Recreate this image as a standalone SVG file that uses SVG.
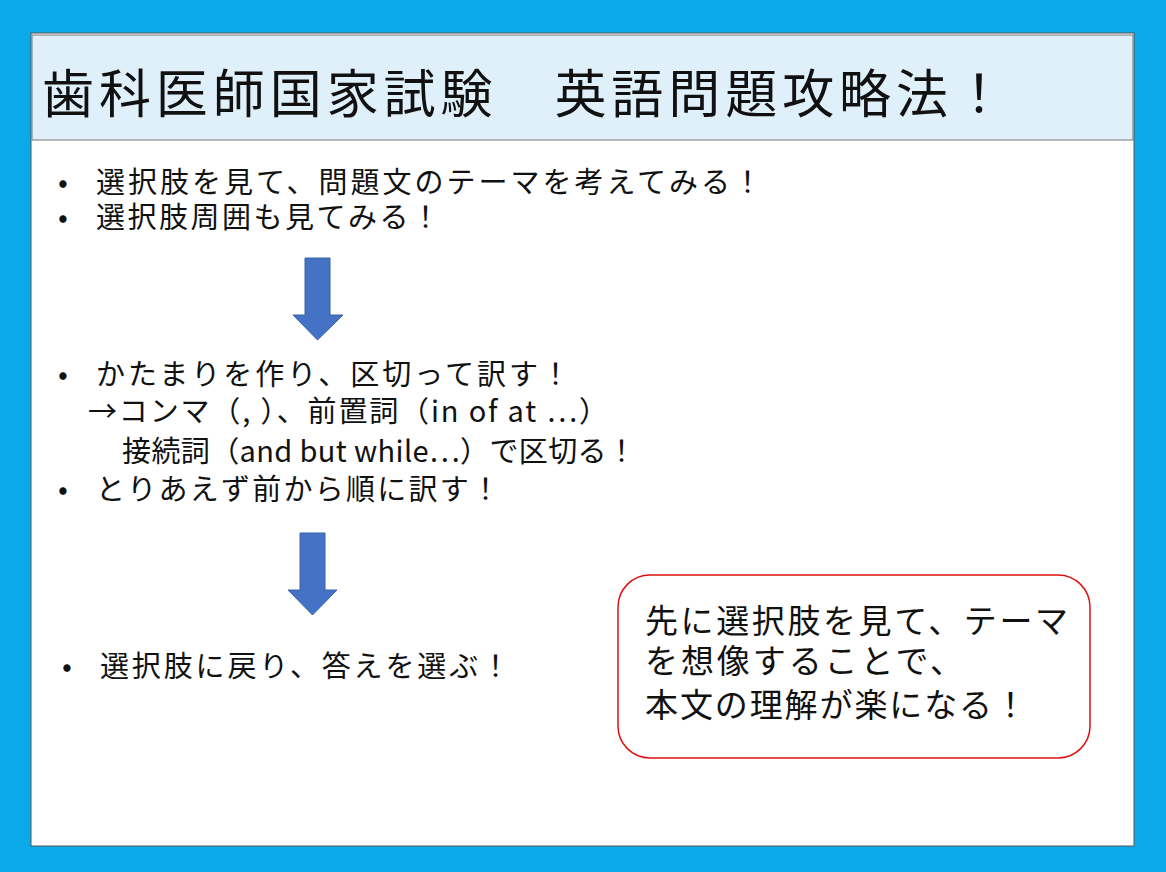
<svg xmlns="http://www.w3.org/2000/svg" width="1166" height="872" viewBox="0 0 1166 872">
<style>
.t{font-family:"Noto Sans CJK JP","Noto Sans",sans-serif;fill:#111}
.b{font-size:29px}
.n{font-size:33px}
.arr{fill:#4472c4;stroke:#3a62a8;stroke-width:1}
</style>
<rect x="0" y="0" width="1166" height="872" fill="#0aaaea"/>
<rect x="31" y="33" width="1103" height="813" fill="#fff" stroke="#555" stroke-width="1"/>
<g id="title">
<rect x="32" y="35" width="1101" height="105" fill="#dff0fb" stroke="#777" stroke-width="1"/>
<text class="t" x="42" y="113" font-size="52" textLength="963" lengthAdjust="spacing">歯科医師国家試験　英語問題攻略法！</text>
</g>
<g id="bullets1">
<text class="t b" x="58" y="193">•</text><text class="t b" x="96" y="193" textLength="666" lengthAdjust="spacing">選択肢を見て、問題文のテーマを考えてみる！</text>
<text class="t b" x="58" y="228">•</text><text class="t b" x="96" y="228" textLength="344" lengthAdjust="spacing">選択肢周囲も見てみる！</text>
</g>
<g id="bullets2">
<text class="t b" x="58" y="385">•</text><text class="t b" x="96" y="385" textLength="474" lengthAdjust="spacing">かたまりを作り、区切って訳す！</text>
<text class="t b" x="88" y="422" textLength="520" lengthAdjust="spacing">→コンマ（,  ）、前置詞（in of at …）</text>
<text class="t b" x="122" y="462" textLength="514" lengthAdjust="spacing">接続詞（and but while…）で区切る！</text>
<text class="t b" x="58" y="500">•</text><text class="t b" x="96" y="500" textLength="404" lengthAdjust="spacing">とりあえず前から順に訳す！</text>
</g>
<g id="bullets3">
<text class="t b" x="62" y="677">•</text><text class="t b" x="100" y="677" textLength="410" lengthAdjust="spacing">選択肢に戻り、答えを選ぶ！</text>
</g>
<g id="connectors">
<polygon class="arr" points="305,258 330,258 330,315 343,315 317.5,340 293,315 305,315"/>
<polygon class="arr" points="300,533 325,533 325,590 337,590 312.5,615 288,590 300,590"/>
</g>
<g id="note">
<rect x="618" y="575" width="472" height="183" rx="32" fill="#fff" stroke="#e01010" stroke-width="1.5"/>
<text class="t n" x="645" y="633" textLength="423" lengthAdjust="spacing">先に選択肢を見て、テーマ</text>
<text class="t n" x="645" y="673" textLength="318" lengthAdjust="spacing">を想像することで、</text>
<text class="t n" x="645" y="717" textLength="382" lengthAdjust="spacing">本文の理解が楽になる！</text>
</g>
</svg>
